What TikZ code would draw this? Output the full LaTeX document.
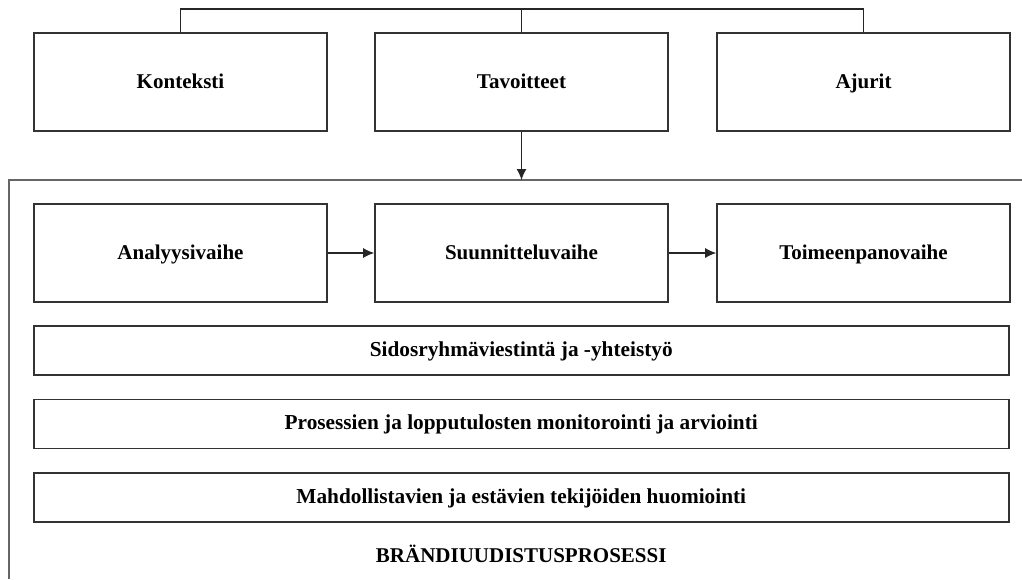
\documentclass[tikz,border=0pt]{standalone}
\usepackage{fontspec}
\setmainfont{Liberation Serif}
\usetikzlibrary{arrows.meta}
\tikzset{
  box/.style={draw=black!80, line width=1.6pt, fill=white, minimum width=293pt, minimum height=98pt, inner sep=0pt, text height=14pt, text depth=2pt, font=\fontsize{21}{25}\selectfont\bfseries},
  bar/.style={draw=black!80, line width=1.6pt, fill=white, minimum width=975pt, minimum height=49pt, inner sep=0pt, text height=13pt, text depth=2pt, font=\fontsize{21.3}{25}\selectfont\bfseries},
  conn/.style={draw=black!85, line width=1.2pt},
  arr/.style={conn, -{Latex[length=11pt,width=10pt]}},
  frame/.style={draw=black!60, line width=1.6pt},
  titletext/.style={font=\fontsize{21}{25}\selectfont\bfseries, anchor=base, inner sep=0pt}
}
\begin{document}
\begin{tikzpicture}[x=1pt,y=-1pt]
\useasboundingbox (0,0) rectangle (1022,579);
% outer process frame
\draw[frame] (1022,180) -- (9,180) -- (9,579);
% top row
\node[box] (kon) at (180.5,82) {Konteksti};
\node[box] (tav) at (521.5,82) {Tavoitteet};
\node[box] (ajr) at (863.5,82) {Ajurit};
\coordinate (tl) at (180.5,9);
\coordinate (tr) at (863.5,9);
\coordinate (tm) at (521.5,9);
\coordinate (fr) at (521.5,180);
\draw[conn] (kon.north) -- (tl) -- (tr) -- (ajr.north);
\draw[conn] (tm) -- (tav.north);
\draw[arr] (tav.south) -- (fr);
% phases
\node[box] (ana) at (180.5,253) {Analyysivaihe};
\node[box] (suu) at (521.5,253) {Suunnitteluvaihe};
\node[box] (toi) at (863.5,253) {Toimeenpanovaihe};
\draw[arr] (ana.east) -- (suu.west);
\draw[arr] (suu.east) -- (toi.west);
% bars
\node[bar] (b1) at (521.25,350.5) {Sidosryhmäviestintä ja -yhteistyö};
\node[bar] (b2) at (521.25,424) {Prosessien ja lopputulosten monitorointi ja arviointi};
\node[bar] (b3) at (521.25,497.5) {Mahdollistavien ja estävien tekijöiden huomiointi};
\node[titletext] (title) at (521.25,562) {BRÄNDIUUDISTUSPROSESSI};
\end{tikzpicture}
\end{document}
